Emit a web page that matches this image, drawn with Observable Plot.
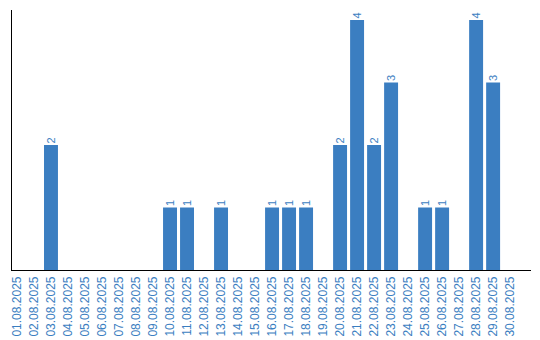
<!DOCTYPE html>
<html>
<head>
<meta charset="utf-8">
<script src="https://cdn.jsdelivr.net/npm/d3@7"></script>
<script src="https://cdn.jsdelivr.net/npm/@observablehq/plot@0.6"></script>
<style>
  html, body { margin: 0; padding: 0; background: #fff; }
  #chart { width: 540px; height: 340px; }
</style>
</head>
<body>
<div id="chart"></div>
<script>
const dates = [
  "01.08.2025","02.08.2025","03.08.2025","04.08.2025","05.08.2025",
  "06.08.2025","07.08.2025","08.08.2025","09.08.2025","10.08.2025",
  "11.08.2025","12.08.2025","13.08.2025","14.08.2025","15.08.2025",
  "16.08.2025","17.08.2025","18.08.2025","19.08.2025","20.08.2025",
  "21.08.2025","22.08.2025","23.08.2025","24.08.2025","25.08.2025",
  "26.08.2025","27.08.2025","28.08.2025","29.08.2025","30.08.2025"
];
const counts = [
  0, 0, 2, 0, 0,
  0, 0, 0, 0, 1,
  1, 0, 1, 0, 0,
  1, 1, 1, 0, 2,
  4, 2, 3, 0, 1,
  1, 0, 4, 3, 0
];
const color = "#3b7ec1";

const data = dates.map((d, i) => ({date: d, value: counts[i]}));
const nonZero = data.filter(d => d.value > 0);

const chart = Plot.plot({
  width: 540,
  height: 340,
  marginLeft: 11,
  marginRight: 10,
  marginTop: 10,
  marginBottom: 70,
  style: {fontFamily: "'Liberation Sans', Arial, sans-serif", background: "#fff"},
  x: {domain: dates, paddingInner: 0.18, paddingOuter: 0.35, align: 0, round: false, label: null},
  y: {domain: [0, 4.16], axis: null},
  marks: [
    Plot.barY(data, {x: "date", y: "value", fill: color, dx: -1}),
    Plot.text(nonZero, {
      x: "date", y: "value", text: d => String(d.value),
      rotate: -90, textAnchor: "start", dy: -2, dx: -1,
      fill: color, fontSize: 11
    }),
    Plot.axisX({
      tickRotate: -90, tickSize: 0, tickPadding: 6, dx: -1,
      fill: color, fontSize: 12, label: null
    }),
    Plot.frame({anchor: "left", stroke: "#000"}),
    Plot.frame({anchor: "bottom", stroke: "#000"})
  ]
});
document.getElementById("chart").append(chart);
</script>
</body>
</html>
